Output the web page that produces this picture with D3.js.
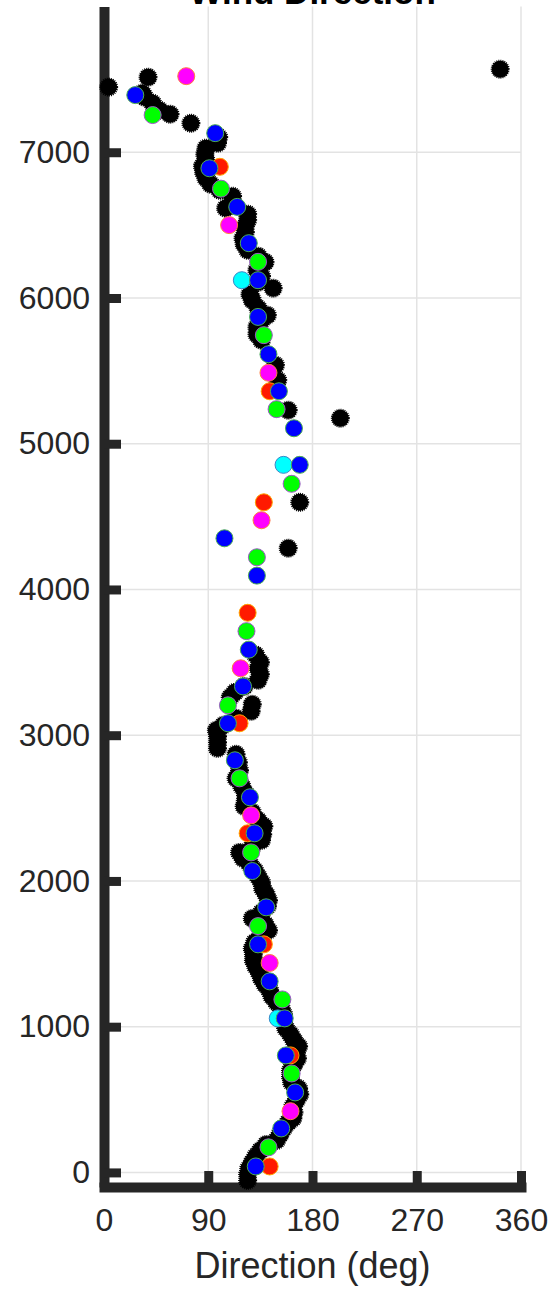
<!DOCTYPE html>
<html>
<head>
<meta charset="utf-8">
<script src="https://cdn.jsdelivr.net/npm/d3@7"></script>
<style>
  body { margin: 0; background: #fff; }
  svg text { font-family: "Liberation Sans", Arial, sans-serif; }
</style>
</head>
<body>
<div id="chart"></div>
<script>
// tick values
var x_ticks = [0, 90, 180, 270, 360];
var y_ticks = [0, 1000, 2000, 3000, 4000, 5000, 6000, 7000];

// black (starburst) points: direction (deg) / altitude
var black_dir = [124, 124, 125, 128, 131, 135, 140, 149, 152, 155, 159, 163, 164, 163, 166, 169, 168, 162, 161, 161,
  164, 167, 166, 168, 164, 161, 157, 155, 155, 153, 149, 145, 143, 139, 136, 134, 131, 129, 129, 128,
  130, 135, 142, 139, 128, 136, 141, 142, 140, 137, 136, 133, 130, 126, 120, 117, 128, 136, 137, 138,
  133, 128, 121, 122, 122, 119, 114, 117, 116, 114, 98, 98, 98, 97, 103, 114, 127, 128, 109, 113,
  121, 133, 135, 133, 135, 131,
  159, 169, 204, 159, 148, 150,
  136, 132, 132, 136, 141, 133, 128, 126, 146, 133, 136, 132, 139, 133, 124, 121, 120, 122, 122, 124,
  124, 105, 111, 111, 100, 92, 88, 86, 85, 88, 87, 88, 98, 99, 75, 57, 48, 42, 35, 33, 4, 38, 342];
var black_alt = [-55, -14, 27, 69, 110, 151, 192, 220, 261, 302, 343, 371, 412, 453, 494, 535, 576, 618, 659, 700,
  741, 782, 824, 865, 906, 947, 988, 1029, 1084, 1126, 1167, 1208, 1249, 1290, 1331, 1373, 1414, 1455, 1496, 1537,
  1578, 1620, 1661, 1702, 1743, 1784, 1826, 1867, 1908, 1949, 1990, 2031, 2073, 2114, 2155, 2196, 2237, 2279, 2320, 2375,
  2416, 2471, 2512, 2553, 2601, 2649, 2704, 2759, 2814, 2869, 2910, 2951, 2992, 3034, 3068, 3116, 3164, 3212, 3260, 3294,
  3335, 3377, 3418, 3459, 3500, 3550,
  4283, 4598, 5175, 5230, 5539, 5436,
  5710, 5751, 5800, 5847, 5882, 5930, 5985, 6026, 6067, 6108, 6149, 6191, 6246, 6287, 6328, 6369, 6410, 6451, 6492, 6534,
  6575, 6616, 6657, 6698, 6739, 6781, 6822, 6863, 6904, 6946, 6987, 7028, 7062, 7103, 7199, 7261, 7288, 7336, 7378, 7405, 7447, 7515, 7570];

var red_dir = [100, 143, 138, 124, 117, 124, 138, 161, 143];
var red_alt = [6900, 5360, 4598, 3840, 3082, 2327, 1565, 803, 41];

var cyan_dir = [119, 155, 150];
var cyan_alt = [6122, 4855, 1057];

var magenta_dir = [71, 108, 142, 136, 118, 127, 143, 161];
var magenta_alt = [7522, 6500, 5487, 4475, 3459, 2450, 1437, 420];

var green_dir = [42, 101, 133, 138, 149, 162, 132, 123, 107, 117, 127, 133, 154, 162, 142];
var green_alt = [7255, 6750, 6248, 5745, 5237, 4725, 4221, 3714, 3205, 2704, 2196, 1690, 1187, 679, 172];

var blue_dir = [27, 96, 91, 115, 125, 133, 133, 142, 151, 164, 169, 104, 132, 125, 120, 107, 113, 126, 130, 128,
  140, 133, 143, 156, 157, 165, 153, 131];
var blue_alt = [7392, 7131, 6890, 6625, 6376, 6122, 5870, 5614, 5360, 5106, 4855, 4351, 4095, 3587, 3335, 3082, 2828, 2574, 2327, 2068,
  1819, 1565, 1311, 1057, 803, 549, 302, 41];

var color_series = [
  {name: "red", fill: "#ff1a00", edge: "#ffa500", dir: red_dir, alt: red_alt},
  {name: "cyan", fill: "#00ffff", edge: "#3a86c8", dir: cyan_dir, alt: cyan_alt},
  {name: "magenta", fill: "#ff00ff", edge: "#ff8040", dir: magenta_dir, alt: magenta_alt},
  {name: "green", fill: "#00ff00", edge: "#9b59c6", dir: green_dir, alt: green_alt},
  {name: "blue", fill: "#0000ff", edge: "#4caf50", dir: blue_dir, alt: blue_alt}
];

var width = 550, height = 1294;
var axis_color = "#262626";

var x = d3.scaleLinear().domain([0, 360]).range([104, 521]);
var y = d3.scaleLinear().domain([-100, 8000]).range([1187, 6.5]);

var svg = d3.select("#chart").append("svg")
  .attr("width", width)
  .attr("height", height);

// grid
var grid = svg.append("g").attr("class", "grid");
grid.selectAll("line.gx").data(x_ticks.slice(1)).enter().append("line")
  .attr("x1", function (d) { return x(d); })
  .attr("x2", function (d) { return x(d); })
  .attr("y1", y(8000))
  .attr("y2", y(-100))
  .attr("stroke", "#e3e3e3")
  .attr("stroke-width", 1.5);
grid.selectAll("line.gy").data(y_ticks).enter().append("line")
  .attr("x1", x(0))
  .attr("x2", x(360))
  .attr("y1", function (d) { return y(d); })
  .attr("y2", function (d) { return y(d); })
  .attr("stroke", "#e3e3e3")
  .attr("stroke-width", 1.5);

// axes (ticks point into the plot)
var x_axis = svg.append("g")
  .attr("transform", "translate(0," + y(-100) + ")")
  .call(d3.axisBottom(x).tickValues(x_ticks).tickSizeInner(-16).tickSizeOuter(0).tickPadding(21));
var y_axis = svg.append("g")
  .attr("transform", "translate(" + x(0) + ",0)")
  .call(d3.axisLeft(y).tickValues(y_ticks).tickFormat(d3.format("d")).tickSizeInner(-17).tickSizeOuter(0).tickPadding(14));

x_axis.select(".domain").attr("stroke", axis_color).attr("stroke-width", 10).attr("stroke-linecap", "square");
y_axis.select(".domain").attr("stroke", axis_color).attr("stroke-width", 10);
svg.selectAll(".tick line").attr("stroke", axis_color).attr("stroke-width", 9);
x_axis.selectAll(".tick").filter(function (d) { return d === 0; }).select("line").remove();
svg.selectAll(".tick text")
  .attr("fill", axis_color)
  .style("font-size", "32px");

// black points
var dots = svg.append("g").attr("class", "dots");
dots.selectAll("circle.black").data(d3.range(black_dir.length)).enter().append("circle")
  .attr("class", "black")
  .attr("cx", function (i) { return x(black_dir[i]); })
  .attr("cy", function (i) { return y(black_alt[i]); })
  .attr("r", 8.5)
  .attr("fill", "#000")
  .attr("stroke", "#000")
  .attr("stroke-width", 2)
  .attr("stroke-dasharray", "1,1");

// coloured points
color_series.forEach(function (s) {
  dots.selectAll("circle." + s.name).data(d3.range(s.dir.length)).enter().append("circle")
    .attr("class", s.name)
    .attr("cx", function (i) { return x(s.dir[i]); })
    .attr("cy", function (i) { return y(s.alt[i]); })
    .attr("r", 8.5)
    .attr("fill", s.fill)
    .attr("stroke", s.edge)
    .attr("stroke-width", 1);
});

// labels
svg.append("text")
  .attr("x", (x(0) + x(360)) / 2)
  .attr("y", 1278)
  .attr("text-anchor", "middle")
  .attr("fill", axis_color)
  .style("font-size", "36px")
  .text("Direction (deg)");

svg.append("text")
  .attr("x", (x(0) + x(360)) / 2)
  .attr("y", 4)
  .attr("text-anchor", "middle")
  .attr("fill", "#000")
  .style("font-size", "35px")
  .style("font-weight", "bold")
  .text("Wind Direction");
</script>
</body>
</html>
